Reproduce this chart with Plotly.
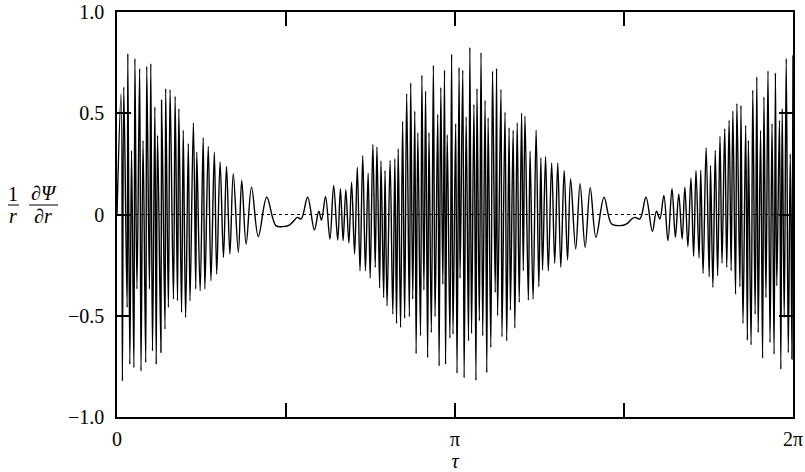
import numpy as np
import plotly.graph_objects as go

# Extrema: tau in units of pi, value of (1/r) dPsi/dr
seg1_tau = [0.000, 0.012, 0.016, 0.020, 0.030, 0.032, 0.038, 0.043, 0.050, 0.053, 0.059, 0.067,
            0.071, 0.077, 0.085, 0.088, 0.096, 0.100, 0.105, 0.112, 0.116, 0.120, 0.130, 0.132,
            0.142, 0.144, 0.152, 0.157, 0.167, 0.172, 0.179, 0.183, 0.191, 0.196, 0.203, 0.211,
            0.216, 0.226, 0.233, 0.236, 0.246, 0.255, 0.260, 0.270, 0.278, 0.288, 0.295, 0.305,
            0.315, 0.324, 0.334, 0.344, 0.359, 0.369, 0.382, 0.398]
seg1_val = [0.000, 0.597, -0.822, 0.630, -0.459, 0.795, -0.740, 0.316, -0.756, 0.770, -0.368, 0.721,
            -0.773, 0.366, -0.731, 0.732, -0.368, 0.745, -0.674, 0.531, -0.740, 0.391, -0.682, 0.564,
            -0.566, 0.622, -0.459, 0.617, -0.418, 0.584, -0.426, 0.523, -0.484, 0.416, -0.509, 0.350,
            -0.426, 0.452, -0.368, 0.308, -0.377, 0.379, -0.368, 0.336, -0.327, 0.308, -0.294, 0.259,
            -0.212, 0.237, -0.195, 0.201, -0.187, 0.168, -0.146, 0.135]

seg2_tau = [0.418, 0.443, 0.470, 0.490, 0.510, 0.524, 0.533, 0.545, 0.564, 0.584, 0.597, 0.605,
            0.617, 0.630, 0.641, 0.653, 0.661, 0.669, 0.677, 0.686, 0.694, 0.703, 0.711, 0.719,
            0.727, 0.735, 0.743, 0.749, 0.757, 0.764, 0.769, 0.777, 0.781, 0.789, 0.793, 0.799]
seg2_val = [-0.109, 0.085, -0.055, -0.060, -0.052, -0.030, -0.014, -0.022, 0.085, -0.076, 0.016, -0.027,
            0.089, -0.121, 0.143, -0.126, 0.127, -0.129, 0.123, -0.141, 0.160, -0.195, 0.234, -0.278,
            0.292, -0.278, 0.204, -0.314, 0.346, -0.261, 0.333, -0.363, 0.264, -0.410, 0.218, -0.451]

seg3_tau = [0.808, 0.816, 0.822, 0.827, 0.832, 0.839, 0.845, 0.851, 0.857, 0.865, 0.869, 0.875,
            0.881, 0.885, 0.890, 0.898, 0.902, 0.908, 0.913, 0.919, 0.923, 0.930, 0.936, 0.941,
            0.949, 0.953, 0.958, 0.964, 0.969, 0.972, 0.977, 0.985, 0.990, 0.994, 1.002, 1.006,
            1.012, 1.015, 1.023, 1.027, 1.033, 1.040, 1.044, 1.049, 1.056, 1.062, 1.065, 1.072,
            1.077, 1.082, 1.089, 1.094, 1.098, 1.106, 1.111, 1.119, 1.123, 1.126, 1.136, 1.139,
            1.148, 1.153, 1.160, 1.164, 1.172, 1.177, 1.184, 1.190, 1.197, 1.202]
seg3_val = [0.267, -0.492, 0.275, -0.538, 0.325, -0.558, 0.460, -0.512, 0.597, -0.505, 0.650, -0.418,
            0.511, -0.687, 0.404, -0.599, 0.688, -0.373, 0.610, -0.707, 0.404, -0.583, 0.737, -0.505,
            0.495, -0.748, 0.627, -0.344, 0.713, -0.740, 0.394, -0.611, 0.792, -0.591, 0.449, -0.784,
            0.726, -0.314, 0.713, -0.806, 0.482, -0.624, 0.825, -0.588, 0.544, -0.819, 0.622, -0.525,
            0.800, -0.599, 0.564, -0.781, 0.478, -0.657, 0.708, -0.385, 0.721, -0.500, 0.618, -0.604,
            0.506, -0.624, 0.429, -0.472, 0.416, -0.561, 0.453, -0.434, 0.501, -0.278]

seg4_tau = [1.207, 1.217, 1.222, 1.231, 1.240, 1.248, 1.254, 1.259, 1.268, 1.276, 1.286, 1.295,
            1.304, 1.313, 1.323, 1.333, 1.342, 1.357, 1.370, 1.385, 1.400, 1.417, 1.441, 1.463,
            1.488, 1.508, 1.523, 1.532, 1.547, 1.565, 1.584, 1.596, 1.606]
seg4_val = [0.485, -0.423, 0.312, -0.418, 0.416, -0.357, 0.280, -0.274, 0.287, -0.278, 0.254, -0.241,
            0.254, -0.261, 0.218, -0.225, 0.176, -0.170, 0.152, -0.162, 0.132, -0.112, 0.085, -0.046,
            -0.055, -0.046, -0.022, -0.014, -0.022, 0.085, -0.083, 0.016, -0.022]

seg5_tau = [1.618, 1.630, 1.642, 1.652, 1.662, 1.672, 1.680, 1.689, 1.698, 1.706, 1.713, 1.722,
            1.727, 1.734, 1.743, 1.752, 1.756, 1.763, 1.770, 1.777, 1.784, 1.790, 1.798, 1.804,
            1.811, 1.817, 1.822, 1.830, 1.834, 1.843, 1.846, 1.852, 1.860, 1.865, 1.868, 1.876,
            1.881, 1.888, 1.893, 1.897, 1.904, 1.910, 1.914, 1.920, 1.926, 1.932, 1.938, 1.944,
            1.948, 1.952, 1.960, 1.964, 1.968, 1.974, 1.980, 1.986, 1.992, 1.997, 2.000]
seg5_val = [0.094, -0.129, 0.127, -0.112, 0.102, -0.121, 0.135, -0.159, 0.181, -0.206, 0.218, -0.215,
            0.218, -0.291, 0.330, -0.307, 0.242, -0.360, 0.316, -0.302, 0.386, -0.241, 0.424, -0.261,
            0.465, -0.278, 0.511, -0.393, 0.548, -0.357, 0.539, -0.538, 0.440, -0.621, 0.366, -0.644,
            0.614, -0.492, 0.680, -0.583, 0.416, -0.710, 0.581, -0.410, 0.709, -0.632, 0.449, -0.690,
            0.699, -0.352, 0.465, -0.764, 0.523, -0.509, 0.770, -0.682, 0.300, -0.715, 0.787]

x_tickvals_over_pi = [0, 0.5, 1, 1.5, 2]
x_ticktext = ["0", "", "π", "", "2π"]
y_tickvals = [-1.0, -0.5, 0, 0.5, 1.0]
y_ticktext = ["−1.0", "−0.5", "0", "0.5", "1.0"]

tau = np.pi * np.array(seg1_tau + seg2_tau + seg3_tau + seg4_tau + seg5_tau)
val = np.array(seg1_val + seg2_val + seg3_val + seg4_val + seg5_val)

FONT = "Liberation Serif"

fig = go.Figure()
fig.add_trace(go.Scatter(x=tau, y=val, mode="lines",
                         line=dict(color="black", width=1.4, shape="spline", smoothing=1),
                         hoverinfo="skip", showlegend=False))

fig.add_shape(type="line", xref="x", yref="y", x0=0, x1=2 * np.pi, y0=0, y1=0,
              line=dict(color="black", width=1, dash="dot"), layer="below")

axis_common = dict(showline=True, linecolor="black", linewidth=1.5, mirror="ticks",
                   ticks="inside", ticklen=14, tickwidth=1.5, tickcolor="black",
                   showgrid=False, zeroline=False, automargin=False,
                   tickfont=dict(family=FONT, size=20, color="black"))

fig.update_xaxes(range=[0, 2 * np.pi],
                 tickvals=[np.pi * v for v in x_tickvals_over_pi], ticktext=x_ticktext,
                 ticklabelstandoff=3,
                 title=dict(text="<i>τ</i>", font=dict(family=FONT, size=20, color="black"), standoff=9),
                 **axis_common)
fig.update_yaxes(range=[-1.0, 1.0], tickvals=y_tickvals, ticktext=y_ticktext,
                 ticklabelstandoff=7, **axis_common)

# y-axis label: (1/r) dPsi/dr built from text pieces
lab_font = dict(family=FONT, size=20, color="black")
anns = [
    dict(text="1", x=13, y=194),
    dict(text="<i>r</i>", x=13, y=216),
    dict(text="∂<i>Ψ</i>", x=44, y=193),
    dict(text="∂<i>r</i>", x=43, y=216),
]
for a in anns:
    fig.add_annotation(text=a["text"], xref="paper", yref="paper",
                       x=(a["x"] - 117) / 676, y=(417 - a["y"]) / 405,
                       showarrow=False, font=lab_font, xanchor="center", yanchor="middle")
for x0, x1 in [(8, 19), (29, 58)]:
    fig.add_shape(type="line", xref="paper", yref="paper",
                  x0=(x0 - 117) / 676, x1=(x1 - 117) / 676,
                  y0=(417 - 205) / 405, y1=(417 - 205) / 405,
                  line=dict(color="black", width=1))

fig.update_layout(width=805, height=472, margin=dict(l=117, r=12, t=12, b=55),
                  paper_bgcolor="white", plot_bgcolor="white",
                  font=dict(family=FONT, color="black"))

fig.write_html("out.html", config={"displayModeBar": False},
               post_script="document.body.style.margin='0';")
